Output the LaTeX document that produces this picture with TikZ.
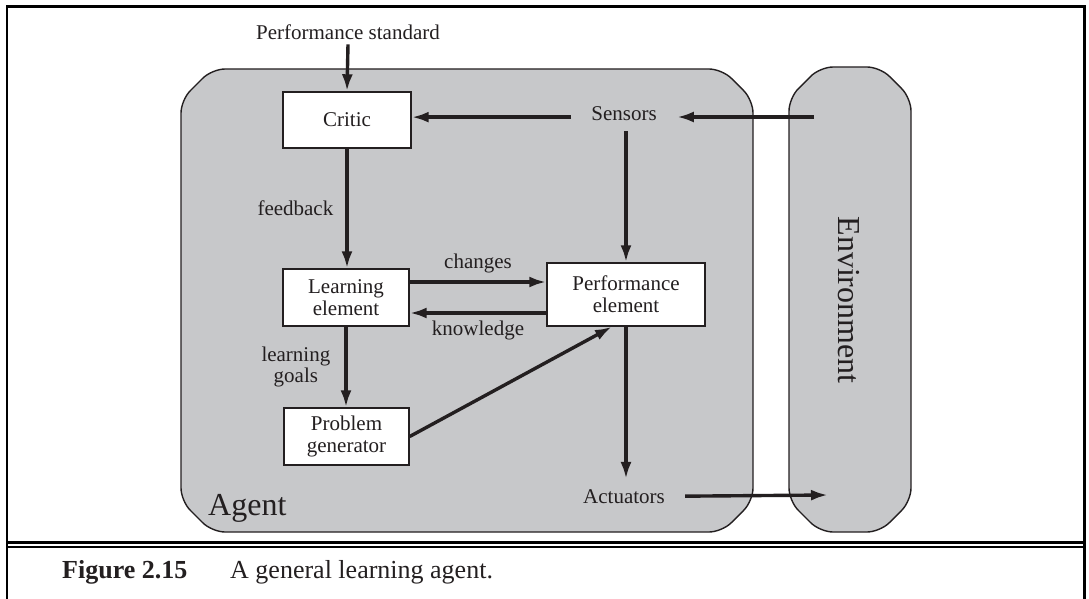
\documentclass[tikz,border=0pt]{standalone}
\usepackage{fontspec}
\setmainfont{Liberation Serif}
\usetikzlibrary{arrows.meta}
\definecolor{ink}{HTML}{231F20}
\definecolor{shade}{HTML}{C7C8CA}
\begin{document}
\begin{tikzpicture}[x=1pt,y=-1pt,
  every node/.style={text=ink, font=\fontsize{21}{22}\selectfont},
  box/.style={draw=ink, line width=1.4pt, fill=white, align=center, inner sep=0pt},
  lbl/.style={inner xsep=20pt, inner ysep=10pt},
  arr/.style={draw=ink, line width=3.4pt, -{Latex[length=17pt,width=11pt]}},
  plate/.style={draw=ink, line width=1.4pt, fill=shade, rounded corners=13pt},
  big/.style={font=\fontsize{32}{34}\selectfont},
  frameline/.style={draw=black, line width=2.8pt},
  ]
\useasboundingbox (0,0) rectangle (1089,599);
% frame
\draw[frameline] (7,599) -- (7,6.5) -- (1084.5,6.5) -- (1084.5,599);
\draw[black, line width=2.6pt] (7,542.2) -- (1084.5,542.2);
\draw[black, line width=2pt] (7,546.9) -- (1084.5,546.9);

% plates
\draw[plate] (181,300) -- (181,501) -- (212,532) -- (722,532) -- (753,501)
  -- (753,100) -- (722,69) -- (212,69) -- (181,100) -- cycle;
\draw[plate] (789,300) -- (789,501) -- (820,532) -- (880,532) -- (911,501)
  -- (911,98) -- (880,67) -- (820,67) -- (789,98) -- cycle;

\node[big, anchor=base west, inner sep=0pt] (agent) at (208,515) {Agent};
\node[big, rotate=-90] (envlbl) at (849,300) {Environment};

% nodes
\node[anchor=base, inner xsep=2pt, inner ysep=4pt] (ps) at (348,40) {Performance standard};
\node[box, minimum width=128pt, minimum height=56pt] (critic) at (347,120) {Critic};
\node[box, minimum width=126pt, minimum height=57pt] (learn) at (346,297.5) {Learning\\element};
\node[box, minimum width=125pt, minimum height=57pt] (prob) at (346.5,436.5) {Problem\\generator};
\node[box, minimum width=158pt, minimum height=63pt] (perf) at (626,294.5) {Performance\\element};
\node[lbl, anchor=base] (sensors) at (624,121) {Sensors};
\node[lbl, anchor=base] (act) at (624,503) {Actuators};

\coordinate (envin) at (814,117);
\coordinate (envout) at (828,495);

% connectors
\draw[arr] (ps.south) -- (critic.north);
\draw[arr] ([yshift=-3pt]sensors.west) -- ([yshift=-3pt]sensors.west -| critic.east);
\draw[arr] (envin) -- (envin -| sensors.east);
\draw[arr] (sensors.south -| perf.north) -- (perf.north);
\draw[arr] (perf.south) -- (perf.south |- act.north);
\draw[arr] (act.east) -- (envout);
\draw[arr] (critic.south) -- (critic.south |- learn.north)
  node[midway, left=12pt, inner sep=0pt] (fb) {feedback};
\draw[arr] (learn.south) -- (learn.south |- prob.north)
  node[midway, left=14pt, inner sep=0pt, align=center, font=\fontsize{21}{21}\selectfont] (lg) {learning\\goals};
\draw[arr] ([yshift=15.5pt]learn.east) -- ([yshift=15.5pt]learn.east -| perf.west)
  node[midway, above=7pt, inner sep=0pt] (ch) {changes};
\draw[arr] ([yshift=-15.5pt]learn.east -| perf.west) -- ([yshift=-15.5pt]learn.east)
  node[midway, below=6pt, inner sep=0pt] (kn) {knowledge};
\draw[arr] (prob.east) -- ([xshift=-14pt]perf.south);

% caption
\node[anchor=base west, inner sep=0pt, font=\fontsize{26}{28}\selectfont\bfseries] (fig) at (62,578) {Figure 2.15};
\node[anchor=base west, inner sep=0pt, font=\fontsize{26}{28}\selectfont] (cap) at (230,578) {A general learning agent.};
\end{tikzpicture}
\end{document}
